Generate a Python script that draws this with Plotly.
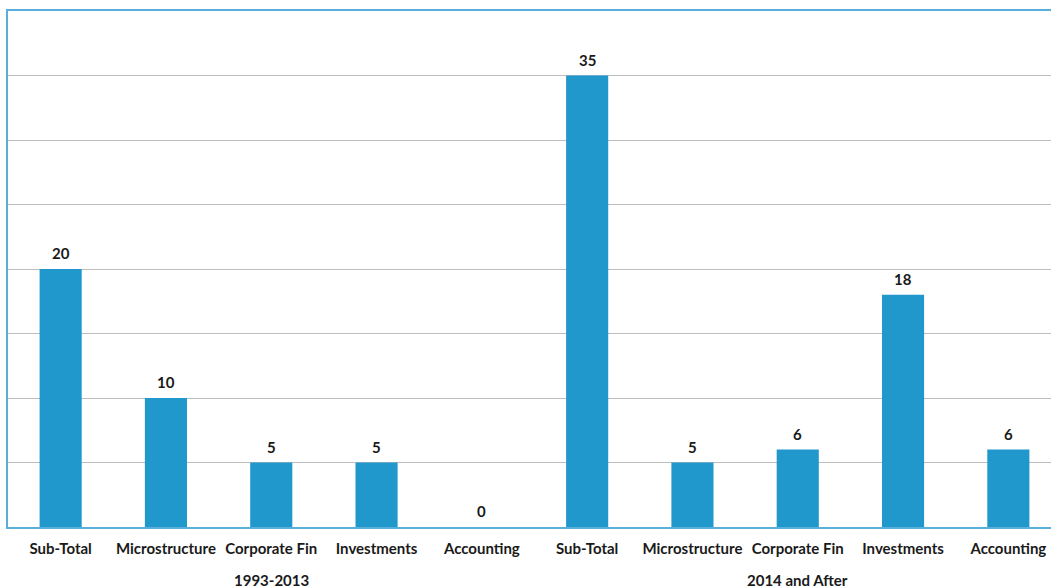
import plotly.graph_objects as go

categories = ["Sub-Total", "Microstructure", "Corporate Fin", "Investments", "Accounting",
              "Sub-Total", "Microstructure", "Corporate Fin", "Investments", "Accounting"]
values = [20, 10, 5, 5, 0, 35, 5, 6, 18, 6]
groups = ["1993-2013", "2014 and After"]
group_centers = [2, 7]

xpos = list(range(len(categories)))
FONT = "Lato"
TXT = "#1a1a1a"

fig = go.Figure()
fig.add_trace(go.Bar(
    x=xpos, y=values, width=0.4,
    marker=dict(color="#2198CC", line=dict(width=0)),
    cliponaxis=False,
))

for x, v in zip(xpos, values):
    fig.add_annotation(x=x, y=v, xref="x", yref="y", text=f"<b>{v}</b>",
                       showarrow=False, yanchor="bottom", yshift=5,
                       font=dict(family=FONT, size=15, color=TXT))

for g, c in zip(groups, group_centers):
    fig.add_annotation(x=c, xref="x", y=(527 - 580) / 516, yref="paper",
                       text=f"<b>{g}</b>", showarrow=False, yanchor="middle",
                       font=dict(family=FONT, size=15, color=TXT))

fig.update_layout(
    width=1051, height=588,
    margin=dict(l=8, r=0, t=11, b=61),
    plot_bgcolor="white", paper_bgcolor="white",
    showlegend=False,
)
fig.update_xaxes(
    range=[-0.5, 9.405], tickvals=xpos,
    ticktext=[f"<b>{c}</b>" for c in categories],
    tickfont=dict(family=FONT, size=15, color=TXT),
    showline=True, linecolor="#5AAEDC", linewidth=1.5, mirror=True,
    showgrid=False, ticks="", ticklabelstandoff=7,
)
fig.update_yaxes(
    range=[0, 40], dtick=5, showticklabels=False,
    showgrid=True, gridcolor="#BDBDBD", gridwidth=1.3,
    showline=True, linecolor="#5AAEDC", linewidth=1.5, mirror=False,
    zeroline=False, ticks="",
)

fig.write_html("out.html")
